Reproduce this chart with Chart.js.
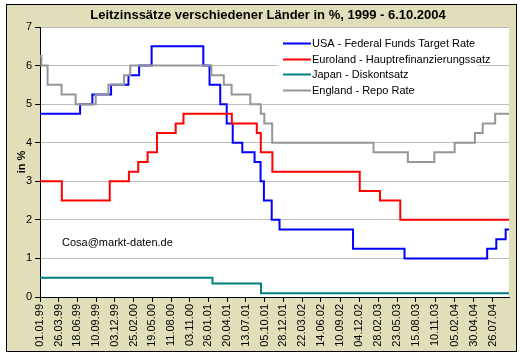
<!DOCTYPE html>
<html>
<head>
<meta charset="utf-8">
<style>
html,body{margin:0;padding:0;background:#fff;}
#wrap{width:523px;height:355px;position:relative;}
canvas{display:block;}
</style>
</head>
<body>
<div id="wrap"><canvas id="c" width="523" height="355"></canvas></div>
<script src="https://cdn.jsdelivr.net/npm/chart.js@4.4.1/dist/chart.umd.min.js"></script>
<script>
// ---------------- data ----------------
const titleText = 'Leitzinssätze verschiedener Länder in %, 1999 - 6.10.2004';
const yAxisTitle = 'in %';
const creditText = 'Cosa@markt-daten.de';
const startDate = '01.01.99';
const endDate = '06.10.04';

const tickLabels = ['01.01.99','26.03.99','18.06.99','10.09.99','03.12.99','25.02.00','19.05.00',
  '11.08.00','03.11.00','26.01.01','20.04.01','13.07.01','05.10.01','28.12.01','22.03.02',
  '14.06.02','10.09.02','04.12.02','28.02.03','23.05.03','15.08.03','10.11.03','05.02.04',
  '30.04.04','26.07.04'];

const seriesLabels = ['USA - Federal Funds Target Rate','Euroland - Hauptrefinanzierungssatz',
  'Japan - Diskontsatz','England - Repo Rate'];

const usaDates = ['01.01.99','30.06.99','24.08.99','16.11.99','02.02.00','21.03.00','16.05.00',
  '03.01.01','31.01.01','20.03.01','18.04.01','15.05.01','27.06.01','21.08.01','17.09.01',
  '02.10.01','06.11.01','11.12.01','06.11.02','25.06.03','30.06.04','10.08.04','21.09.04','06.10.04'];
const usaRates = [4.75,5.00,5.25,5.50,5.75,6.00,6.50,
  6.00,5.50,5.00,4.50,4.00,3.75,3.50,3.00,
  2.50,2.00,1.75,1.25,1.00,1.25,1.50,1.75,1.75];

const euroDates = ['01.01.99','09.04.99','10.11.99','04.02.00','17.03.00','28.04.00','09.06.00',
  '01.09.00','06.10.00','11.05.01','31.08.01','18.09.01','09.11.01','06.12.02','07.03.03',
  '06.06.03','06.10.04'];
const euroRates = [3.00,2.50,3.00,3.25,3.50,3.75,4.25,
  4.50,4.75,4.50,4.25,3.75,3.25,2.75,2.50,
  2.00,2.00];

const japanDates = ['01.01.99','13.02.01','19.09.01','06.10.04'];
const japanRates = [0.50,0.35,0.10,0.10];

const ukDates = ['01.01.99','07.01.99','04.02.99','08.04.99','10.06.99','08.09.99','04.11.99',
  '13.01.00','10.02.00','08.02.01','05.04.01','10.05.01','02.08.01','18.09.01','04.10.01',
  '08.11.01','06.02.03','10.07.03','06.11.03','05.02.04','06.05.04','10.06.04','05.08.04','06.10.04'];
const ukRates = [6.25,6.00,5.50,5.25,5.00,5.25,5.50,
  5.75,6.00,5.75,5.50,5.25,5.00,4.75,4.50,
  4.00,3.75,3.50,3.75,4.00,4.25,4.50,4.75,4.75];

const seriesColors = ['#0000FF','#FF0000','#008080','#969696'];

// ---------------- helpers ----------------
function parseDate(s){
  const [d,m,y] = s.split('.').map(Number);
  const yy = y > 50 ? 1900 + y : 2000 + y;
  return Date.UTC(yy, m - 1, d);
}
const t0 = parseDate(startDate);
function dayOf(s){ return Math.round((parseDate(s) - t0) / 86400000); }
function toPoints(dates, rates){ return dates.map((d,i)=>({x: dayOf(d), y: rates[i]})); }

const FONT = "'Liberation Sans', Arial, sans-serif";
const KHAKI = '#E1DFB9';

const decor = {
  id: 'decor',
  beforeDraw(chart){
    const {ctx, chartArea: a} = chart;
    ctx.save();
    ctx.fillStyle = '#fff';
    ctx.fillRect(0,0,chart.width,chart.height);
    ctx.fillStyle = KHAKI;
    ctx.fillRect(6,5,510,346);
    ctx.strokeStyle = '#000';
    ctx.lineWidth = 1;
    ctx.strokeRect(6.5,4.5,510,347);
    ctx.fillStyle = '#fff';
    ctx.fillRect(a.left, a.top, a.right - a.left, a.bottom - a.top);
    ctx.fillStyle = '#000';
    ctx.font = 'bold 13px ' + FONT;
    ctx.textAlign = 'center';
    ctx.textBaseline = 'middle';
    ctx.fillText(titleText, 268, 15);
    ctx.restore();
  },
  afterDraw(chart){
    const {ctx} = chart;
    ctx.save();
    // legend
    ctx.fillStyle = '#fff';
    ctx.fillRect(278, 34, 200, 64);
    ctx.font = '11px ' + FONT;
    ctx.textAlign = 'left';
    ctx.textBaseline = 'middle';
    chart.data.datasets.forEach((ds, i) => {
      const y = Math.round(43 + i * 15.7) + 0.5;
      ctx.strokeStyle = ds.borderColor;
      ctx.lineWidth = 2;
      ctx.beginPath();
      ctx.moveTo(283, y);
      ctx.lineTo(311, y);
      ctx.stroke();
      ctx.fillStyle = '#000';
      ctx.fillText(ds.label, 312, y);
    });
    // credit
    ctx.fillStyle = '#000';
    ctx.fillText(creditText, 62, 243);
    ctx.restore();
  }
};

const seriesData = [
  toPoints(usaDates, usaRates),
  toPoints(euroDates, euroRates),
  toPoints(japanDates, japanRates),
  toPoints(ukDates, ukRates)
];
const drawOrder = [3, 2, 1, 0];

new Chart(document.getElementById('c'), {
  type: 'line',
  data: {
    datasets: seriesData.map((pts, i) => ({
      label: seriesLabels[i],
      data: pts,
      borderColor: seriesColors[i],
      backgroundColor: seriesColors[i],
      borderWidth: 2,
      pointRadius: 0,
      stepped: 'before',
      fill: false,
      order: drawOrder[i],
      borderCapStyle: 'butt',
      borderJoinStyle: 'miter'
    }))
  },
  options: {
    responsive: false,
    animation: false,
    devicePixelRatio: 1,
    layout: { padding: { left: 6, right: 14, top: 27, bottom: 4 } },
    plugins: { legend: { display: false }, tooltip: { enabled: false }, title: { display: false } },
    scales: {
      x: {
        type: 'linear',
        min: 0,
        max: dayOf(endDate),
        afterBuildTicks: s => { s.ticks = tickLabels.map(l => ({ value: dayOf(l) })); },
        afterFit: s => { s.height = 54; },
        ticks: {
          autoSkip: false,
          minRotation: 90,
          maxRotation: 90,
          padding: 2,
          color: '#000',
          font: { family: FONT, size: 11 },
          callback: (v, i) => tickLabels[i]
        },
        grid: { drawOnChartArea: false, drawTicks: true, tickLength: 5, tickColor: '#000', tickWidth: 1 },
        border: { display: true, color: '#000', width: 1 }
      },
      y: {
        min: 0,
        max: 7,
        afterFit: s => { s.width = 34; },
        ticks: { stepSize: 1, padding: 3, color: '#000', font: { family: FONT, size: 11 } },
        grid: {
          color: '#BDBDBD',
          borderDash: [4, 3],
          tickLength: 5,
          tickColor: '#000',
          tickBorderDash: [],
          drawTicks: true
        },
        border: { display: true, color: '#000', width: 1 },
        title: {
          display: true,
          text: yAxisTitle,
          color: '#000',
          font: { family: FONT, size: 11, weight: 'bold', lineHeight: 1.2 },
          padding: { top: 9, bottom: 0 }
        }
      }
    }
  },
  plugins: [decor]
});
</script>
</body>
</html>
